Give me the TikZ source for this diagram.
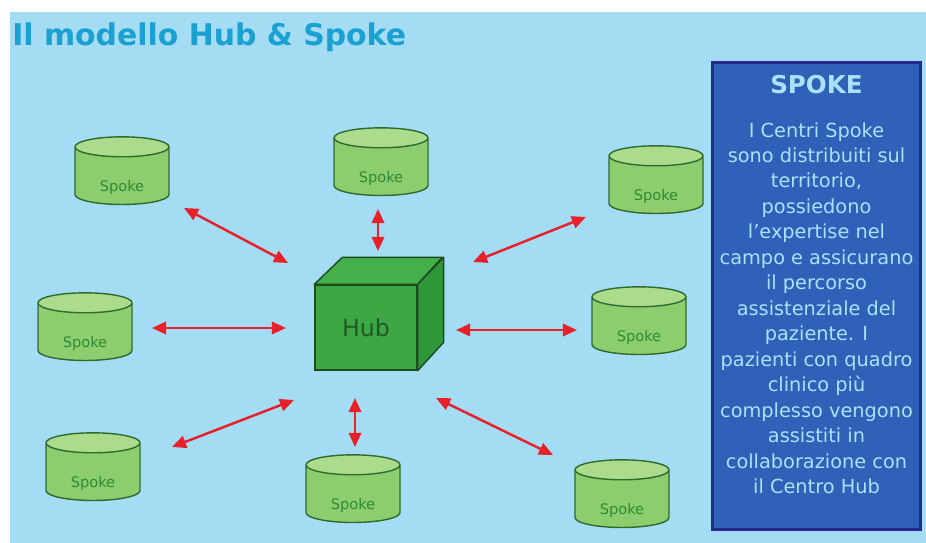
\documentclass[tikz,border=0pt]{standalone}
\usepackage{fontspec}
\setmainfont{DejaVu Sans}
\usepackage{xcolor}
\usetikzlibrary{arrows.meta,positioning,shapes.geometric,calc}

\definecolor{skyback}{HTML}{A4DCF4}
\definecolor{titleblue}{HTML}{1BA0D2}
\definecolor{panelblue}{HTML}{2E62B8}
\definecolor{panelnavy}{HTML}{28288C}
\definecolor{paneltext}{HTML}{AAE1F8}
\definecolor{spokebody}{HTML}{8CCD6E}
\definecolor{spoketop}{HTML}{AADC8C}
\definecolor{spokeline}{HTML}{2F6A2F}
\definecolor{spoketext}{HTML}{2E8B34}
\definecolor{hubfront}{HTML}{3DA843}
\definecolor{hubtop}{HTML}{45B04A}
\definecolor{hubside}{HTML}{2F963A}
\definecolor{hubline}{HTML}{1E4A22}
\definecolor{hubtext}{HTML}{1F5A25}
\definecolor{linkred}{HTML}{E8202A}

\begin{document}
\begin{tikzpicture}[x=0.02cm, y=-0.02cm,
  spoke/.style={cylinder, shape border rotate=90, aspect=0.45, draw=spokeline, thick,
    cylinder uses custom fill, cylinder body fill=spokebody, cylinder end fill=spoketop,
    minimum width=1.88cm, minimum height=1.34cm, inner sep=0pt,
    text=spoketext, font=\fontsize{8.3}{10}\selectfont},
  link/.style={line width=1.4pt, linkred,
    {Triangle[length=8pt,width=7pt]}-{Triangle[length=8pt,width=7pt]}}]

% page and light blue slide
\fill[white] (0,0) rectangle (926,543);
\useasboundingbox (0,0) rectangle (926,543);
\fill[skyback] (10,12) rectangle (926,543);

% title
\node[anchor=base west, inner sep=0pt, text=titleblue,
  font=\fontsize{17}{20}\selectfont\bfseries] (title) at (12,46)
  {Il modello Hub \& Spoke};

% Hub: front face as node, then top and side
\node[draw=hubline, thick, fill=hubfront, minimum width=2.04cm, minimum height=1.7cm,
  text=hubtext, font=\fontsize{13.5}{15}\selectfont] (hub) at (366,327.5) {Hub};
\filldraw[fill=hubtop, draw=hubline, thick, line join=round]
  (hub.north west) -- ++(28,-27) -- ++(100,0) -- (hub.north east) -- cycle;
\filldraw[fill=hubside, draw=hubline, thick, line join=round]
  (hub.north east) -- ++(26,-27) -- ++(0,85) -- (hub.south east) -- cycle;

% Spokes (strut pushes the word into the body, below the lid)
\foreach \n/\x/\y in {s1/122/176, s2/381/167, s3/656/185, s4/85/332,
                      s5/639/326, s6/93/472, s7/353/494, s8/622/499}
  \node[spoke] (\n) at (\x,\y) {\rule{0pt}{0.68cm}Spoke};

% double arrows between hub and spokes
\foreach \i/\ax/\ay/\bx/\by in {1/184/208/288/263, 2/378/209/378/251,
    3/473/262/586/217, 4/152/328/286/328, 5/456/330/577/330,
    6/172/447/294/400, 7/355/398/355/447, 8/436/398/553/455} {
  \coordinate (a\i) at (\ax,\ay);
  \coordinate (b\i) at (\bx,\by);
  \draw[link] (a\i) -- (b\i);
}

% side panel
\draw[panelnavy, line width=1.7pt, fill=panelblue] (712.5,62.5) rectangle (920.5,529.5);
\node[text=paneltext, font=\fontsize{14}{16}\selectfont\bfseries] (heading) at (816.5,85) {SPOKE};
\node[anchor=north, inner sep=0pt, align=center, text=paneltext,
  font=\fontsize{11}{14.5}\selectfont] (desc) at (816.5,122)
  {I Centri Spoke\\sono distribuiti sul\\territorio,\\possiedono\\l’expertise nel\\
   campo e assicurano\\il percorso\\assistenziale del\\paziente. I\\
   pazienti con quadro\\clinico più\\complesso vengono\\assistiti in\\
   collaborazione con\\il Centro Hub};

\end{tikzpicture}
\end{document}
